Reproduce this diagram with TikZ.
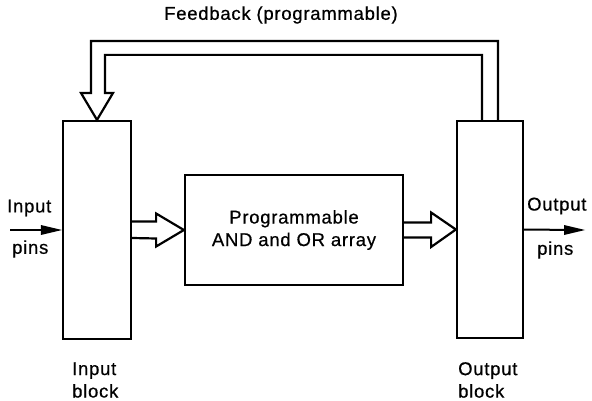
\documentclass[tikz,border=0pt]{standalone}
\usepackage{fontspec}
\setmainfont[LetterSpace=4, FakeBold=0.6]{Liberation Sans}
\usetikzlibrary{arrows.meta, calc, positioning}

\begin{document}
\begin{tikzpicture}[
    x=1pt, y=-1pt,
    every node/.style={font=\fontsize{18.5}{22.5}\selectfont, inner sep=0pt},
    blockbox/.style={draw=black, line width=2.2pt, fill=white},
    fatarrow/.style={draw=black, line width=2.2pt, line join=miter},
    pinline/.style={draw=black, line width=2pt},
    pinhead/.style={fill=black}
  ]
  \useasboundingbox (0,0) rectangle (592,401);

  % Blocks: input block left, AND/OR array in the middle, output block right
  \node[blockbox, minimum width=68pt, minimum height=218pt] (inblk) at (97,230) {};
  \node[blockbox, minimum width=66pt, minimum height=217pt] (outblk) at (490,229.5) {};
  \node[blockbox, minimum width=218pt, minimum height=110pt, align=center] (array) at (294,230)
    {Programmable\\AND and OR array};

  % Block labels below
  \node[anchor=west, align=left] (inlbl) at (72,380) {Input\\block};
  \node[anchor=west, align=left] (outlbl) at (458,380) {Output\\block};

  % Input and output pins
  \coordinate (pinin) at (10,230);
  \coordinate (pinout) at (585,230);
  \node[anchor=west] (intxt) at (7,208) {Input};
  \node[anchor=west] (inpins) at (12,249) {pins};
  \node[anchor=west] (outtxt) at (527,206) {Output};
  \node[anchor=west] (outpins) at (537,250) {pins};
  \draw[pinline] (pinin) -- ($(inblk.west)+(-10,0)$);
  \fill[pinhead] (inblk.west) -- ++(-21,-5) -- ++(0,10) -- cycle;
  \draw[pinline] (outblk.east) -- ($(pinout)+(-10,0)$);
  \fill[pinhead] (pinout) -- ++(-21,-5) -- ++(0,10) -- cycle;

  % Wide arrows between the blocks
  \draw[fatarrow] ($(inblk.east)+(0,-8.5)$) -- ++(24,0) -- ++(0,-8) -- (array.west)
    -- ($(inblk.east)+(24,16.5)$) -- ++(0,-8) -- ($(inblk.east)+(0,8)$);
  \draw[fatarrow] ($(array.east)+(0,-7.5)$) -- ++(27,0) -- ++(0,-10) -- (outblk.west)
    -- ($(array.east)+(27,17)$) -- ++(0,-9.5) -- ($(array.east)+(0,7.5)$);

  % Feedback path from output block back to input block
  \draw[fatarrow] ($(outblk.north)+(8,0)$) |- (91,41) -- (91,93) -- (81,93) -- (inblk.north)
    -- (113,93) -- (105,93) |- ($(outblk.north)+(-8,56)-(0,121)$) -- ($(outblk.north)+(-8,0)$);
  \node (fbtxt) at (281,15) {Feedback (programmable)};
\end{tikzpicture}
\end{document}
